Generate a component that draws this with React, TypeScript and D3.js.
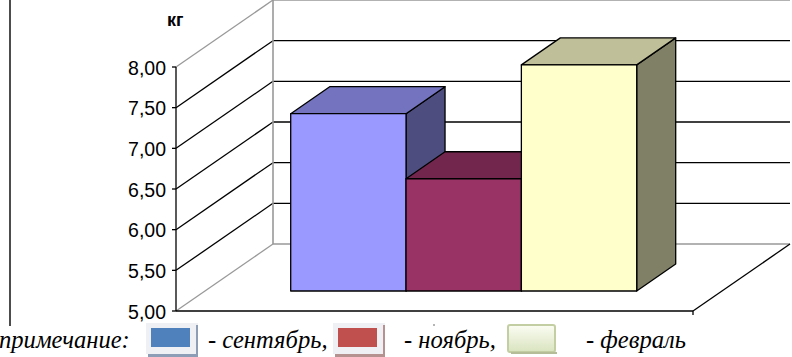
import { useEffect, useRef } from 'react';
import * as d3 from 'd3';

const categories = ['сентябрь', 'ноябрь', 'февраль'];
const values = [7.18, 6.38, 7.78];
const tickValues = [5, 5.5, 6, 6.5, 7, 7.5, 8];
const tickLabels = ['5,00', '5,50', '6,00', '6,50', '7,00', '7,50', '8,00'];
const unitLabel = 'кг';
const noteLabel = 'примечание:';
const legendLabels = ['- сентябрь,', '- ноябрь,', '- февраль'];

const barFront = ['#9999ff', '#993366', '#ffffcc'];
const barTop = ['#7373bf', '#73264d', '#bfbf99'];
const barSide = ['#4d4d80', '#4d1a33', '#808066'];

export default function App() {
  const svgRef = useRef<SVGSVGElement | null>(null);

  useEffect(() => {
    if (!svgRef.current) return;
    const svg = d3.select(svgRef.current);
    svg.selectAll('*').remove();

    const W = 792;
    const H = 357;
    svg.attr('width', W).attr('height', H);

    // Fake 3D box: front plane plus a depth offset for the back wall
    const left = 176;
    const right = 693;
    const depthX = 97;
    const depthY = 67;
    const y = d3.scaleLinear().domain([5, 8]).range([311, 67]);
    const GREY = '#999999';

    const seg = (x1: number, y1: number, x2: number, y2: number, color: string, w = 1.3) =>
      svg.append('line')
        .attr('x1', x1).attr('y1', y1).attr('x2', x2).attr('y2', y2)
        .attr('stroke', color).attr('stroke-width', w);

    // Walls and grid
    tickValues.forEach((v, i) => {
      const edge = i === 0 || i === tickValues.length - 1;
      const color = edge ? GREY : '#000';
      const yy = y(v);
      seg(left, yy, left + depthX, yy - depthY, color);
      seg(left + depthX, yy - depthY, right + depthX, yy - depthY, color);
    });
    seg(left + depthX, 0, left + depthX, y(5) - depthY, GREY, 1.6);

    // Floor edges and axes
    seg(left, y(5), right, y(5), '#000');
    seg(right, y(5), right + depthX, y(5) - depthY, '#000');
    seg(right, y(5), right, y(5) + 4, '#000');
    seg(left, y(8), left, y(5), '#000');

    tickValues.forEach((v, i) => {
      seg(left - 4, y(v), left, y(v), '#000');
      svg.append('text')
        .attr('x', 166).attr('y', y(v) + 7.5)
        .attr('text-anchor', 'end')
        .style('font-family', 'Liberation Sans')
        .style('font-size', '19.5px')
        .style('fill', '#000')
        .text(tickLabels[i]);
    });

    svg.append('text')
      .attr('x', 167).attr('y', 25.5)
      .style('font-family', 'Liberation Sans')
      .style('font-size', '18px')
      .style('font-weight', '700')
      .text(unitLabel);

    // Bars
    const x = d3.scaleBand().domain(categories).range([290.7, 636.7]);
    const barDx = 39;
    const barDy = 27;
    const lift = 20;
    categories.forEach((c, i) => {
      const x0 = x(c)!;
      const x1 = x0 + x.bandwidth();
      const yTop = y(values[i]) - lift;
      const yBase = y(5) - lift;
      const poly = (pts: [number, number][], fill: string) =>
        svg.append('path')
          .attr('d', d3.line()(pts) + 'Z')
          .attr('fill', fill).attr('stroke', '#000').attr('stroke-width', 1.3)
          .attr('stroke-linejoin', 'round');
      poly([[x1, yTop], [x1 + barDx, yTop - barDy], [x1 + barDx, yBase - barDy], [x1, yBase]], barSide[i]);
      poly([[x0, yTop], [x0 + barDx, yTop - barDy], [x1 + barDx, yTop - barDy], [x1, yTop]], barTop[i]);
      poly([[x0, yTop], [x1, yTop], [x1, yBase], [x0, yBase]], barFront[i]);
    });

    // Frame line at far left and stray mark under the chart
    seg(10, 0, 10, 326, '#000', 1.4);
    svg.append('circle').attr('cx', 434).attr('cy', 325).attr('r', 0.7).attr('fill', '#333');

    // Note line with pasted swatches
    const defs = svg.append('defs');
    const grad = defs.append('linearGradient').attr('id', 'febSwatch')
      .attr('x1', 0).attr('y1', 0).attr('x2', 0).attr('y2', 1);
    grad.append('stop').attr('offset', 0).attr('stop-color', '#fbfdf3');
    grad.append('stop').attr('offset', 1).attr('stop-color', '#d9e3bf');

    const note = (tx: number, s: string) =>
      svg.append('text')
        .attr('x', tx).attr('y', 348)
        .style('font-family', 'Liberation Serif')
        .style('font-style', 'italic')
        .style('font-size', '24.6px')
        .style('fill', '#000')
        .text(s);
    note(-1, noteLabel);
    note(208, legendLabels[0]);
    note(404, legendLabels[1]);
    note(586, legendLabels[2]);

    // Swatch 1 and 2: flat colour on a pale plate with a coloured shadow
    const plate = (px: number, fill: string, edge: string) => {
      svg.append('rect').attr('x', px).attr('y', 323).attr('width', 52).attr('height', 31).attr('fill', '#eef0f4');
      svg.append('rect').attr('x', px + 50).attr('y', 325).attr('width', 2).attr('height', 31).attr('fill', edge);
      svg.append('rect').attr('x', px + 2).attr('y', 354).attr('width', 50).attr('height', 3).attr('fill', edge);
      svg.append('rect').attr('x', px + 5).attr('y', 328).attr('width', 39).attr('height', 19).attr('fill', fill);
    };
    plate(146, '#4f81bd', '#8c9db5');
    plate(333, '#c0504d', '#b5918f');

    svg.append('rect').attr('x', 508).attr('y', 325).attr('width', 47).attr('height', 27)
      .attr('rx', 2).attr('fill', 'url(#febSwatch)').attr('stroke', '#c3cfa3').attr('stroke-width', 2);
    svg.append('rect').attr('x', 511).attr('y', 352).attr('width', 46).attr('height', 2).attr('fill', '#b5bd98');
  }, []);

  return <svg ref={svgRef} style={{ position: 'absolute', left: 0, top: 0, display: 'block' }} />;
}
